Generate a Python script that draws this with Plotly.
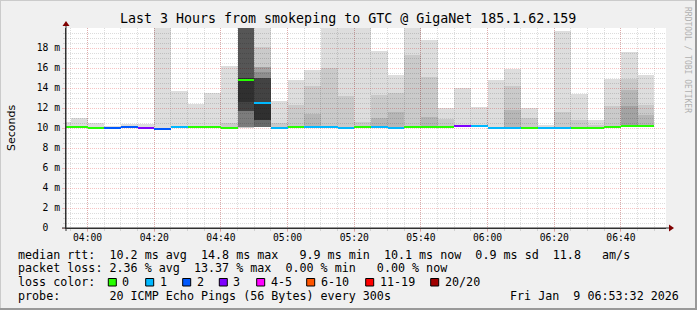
import plotly.graph_objects as go
import pandas as pd

# ---------------- data ----------------
DAY = "2026-01-09 "
intervals = ["03:50", "03:55", "04:00", "04:05", "04:10", "04:15", "04:20", "04:25", "04:30",
             "04:35", "04:40", "04:45", "04:50", "04:55", "05:00", "05:05", "05:10", "05:15",
             "05:20", "05:25", "05:30", "05:35", "05:40", "05:45", "05:50", "05:55", "06:00",
             "06:05", "06:10", "06:15", "06:20", "06:25", "06:30", "06:35", "06:40", "06:45"]

# median rtt per 5-minute step (ms)
median_ms = [10.13, 10.13, 10.0, 10.0, 10.13, 10.0, 9.9, 10.13, 10.13, 10.13, 10.0, 14.8,
             12.5, 10.0, 10.13, 10.13, 10.13, 10.02, 10.1, 10.1, 10.05, 10.1, 10.1, 10.1,
             10.2, 10.2, 10.05, 10.05, 10.05, 10.05, 10.05, 10.05, 10.05, 10.1, 10.2, 10.2]
# lost pings category per step (index into loss legend)
loss_cat = [0, 0, 0, 2, 2, 3, 2, 1, 0, 0, 0, 0, 1, 1, 0, 1, 1, 1,
            0, 1, 1, 0, 0, 0, 3, 1, 1, 1, 0, 1, 1, 0, 0, 0, 0, 0]

# smoke: bottom of the smoke and the tops of the outer (lightest) smoke levels (ms)
smoke_bottom = [10.0, 10.0, 9.9, 9.9, 10.0, 9.9, 9.8, 10.0, 10.0, 10.0, 9.9, None,
                None, 9.9, 10.0, 10.0, 10.0, 9.95, 10.0, 10.0, 10.0, 10.0, 10.0, 10.0,
                10.1, 10.1, 9.95, 9.95, 9.95, 9.95, 9.95, 9.95, 9.95, 10.0, 10.1, 10.1]
smoke_top1 = [10.6, 11.05, 10.55, 10.25, 10.4, 10.4, 20.6, 13.7, 12.4, 13.5, 16.2, None,
              None, 12.7, 14.8, 15.85, 20.6, 20.6, 20.6, 17.7, 15.3, 20.6, 18.8, 12.0,
              14.0, 12.1, 14.8, 15.9, 12.0, 10.3, 19.7, 13.4, 10.8, 14.9, 17.6, 15.3]
smoke_top2 = [None, None, None, None, None, None, None, None, None, None, 10.5, None,
              None, 10.5, 12.3, 14.2, 16.0, 13.2, 10.6, 13.3, 13.5, 17.3, 15.1, 10.9,
              None, None, None, 14.2, 10.97, None, 11.6, 10.8, 10.3, 12.2, 14.9, 12.3]
smoke_top3 = [None, None, None, None, None, None, None, None, None, None, None, None,
              None, None, None, 11.4, None, None, None, 11.0, 11.6, None, 11.1, None,
              None, None, None, 11.8, None, None, None, None, None, None, 13.8, 11.3]
smoke_top4 = [None, None, None, None, None, None, None, None, None, None, None, None,
              None, None, None, None, None, None, None, None, None, None, None, None,
              None, None, None, None, None, None, None, None, None, None, 12.2, None]
# dense smoke of the two congested steps: (step, level, low, high)
dense_smoke = [
    ("04:45", 1, 10.05, 22.0), ("04:45", 2, 10.05, 22.0), ("04:45", 3, 10.1, 22.0),
    ("04:45", 4, 10.1, 22.0), ("04:45", 5, 10.1, 22.0), ("04:45", 6, 10.1, 22.0),
    ("04:45", 7, 11.7, 22.0), ("04:45", 8, 11.7, 22.0), ("04:45", 9, 11.7, 15.0),
    ("04:45", 10, 12.65, 15.0),
    ("04:50", 1, 10.1, 22.0), ("04:50", 2, 10.1, 18.1), ("04:50", 3, 10.1, 16.1),
    ("04:50", 4, 10.1, 16.1), ("04:50", 5, 10.1, 15.6), ("04:50", 6, 10.1, 15.0),
    ("04:50", 7, 10.1, 15.0), ("04:50", 8, 10.8, 15.0), ("04:50", 9, 10.8, 15.0),
    ("04:50", 10, 10.8, 12.5),
]

loss_labels = ["0", "1", "2", "3", "4-5", "6-10", "11-19", "20/20"]
loss_colors = ["#26ff00", "#00b8ff", "#0059ff", "#7e00ff", "#ff00ff", "#ff5500", "#ff0000", "#a00000"]

x_ticks = ["04:00", "04:20", "04:40", "05:00", "05:20", "05:40", "06:00", "06:20", "06:40"]
y_ticks = [0, 2, 4, 6, 8, 10, 12, 14, 16, 18]
y_ticklabels = ["0\u00a0\u00a0", "2 m", "4 m", "6 m", "8 m", "10 m", "12 m", "14 m", "16 m", "18 m"]

legend_lines = [
    "median rtt:  10.2 ms avg  14.8 ms max   9.9 ms min  10.1 ms now  0.9 ms sd  11.8   am/s",
    "packet loss: 2.36 % avg  13.37 % max  0.00 % min   0.00 % now",
    "loss color:",
    "probe:       20 ICMP Echo Pings (56 Bytes) every 300s",
]
stamp = "Fri Jan  9 06:53:32 2026"
title = "Last 3 Hours from smokeping to GTC @ GigaNet 185.1.62.159"

# ---------------- geometry ----------------
W, H = 697, 310
L, T, PW, PH = 66, 28, 600, 200
STEP_MS = 300000
MONO = "DejaVu Sans Mono"
MGRID = "rgba(225,60,60,0.30)"
GRID = "rgba(140,140,140,0.30)"


def ts(hhmm):
    return pd.Timestamp(DAY + hhmm)


def center(hhmm):
    return ts(hhmm) + pd.Timedelta(seconds=150)


def px(xp):
    return (xp - L) / PW


def py(yp):
    return (T + PH - yp) / PH


# smokeping grey levels; each inner level is an alpha layer over the outer ones
def level_gray(level):
    return int(190 / 10 * (10 - level)) + 50


fig = go.Figure()

tops = {1: smoke_top1, 2: smoke_top2, 3: smoke_top3, 4: smoke_top4}
for level in range(1, 11):
    prev = 255 if level == 1 else level_gray(level - 1)
    alpha = 1 - level_gray(level) / prev
    xs, bases, hs = [], [], []
    if level in tops:
        for t, lo, hi in zip(intervals, smoke_bottom, tops[level]):
            if lo is not None and hi is not None:
                xs.append(center(t)); bases.append(lo); hs.append(hi - lo)
    for t, lv, lo, hi in dense_smoke:
        if lv == level:
            xs.append(center(t)); bases.append(lo); hs.append(hi - lo)
    if xs:
        fig.add_trace(go.Bar(x=xs, y=hs, base=bases, width=STEP_MS,
                             marker=dict(color=f"rgba(0,0,0,{alpha:.3f})", line=dict(width=0)),
                             hoverinfo="skip", showlegend=False))

# median line coloured by loss
fig.add_trace(go.Bar(
    x=[center(t) for t in intervals], y=[0.2] * len(intervals),
    base=[m - 0.1 for m in median_ms], width=STEP_MS,
    marker=dict(color=[loss_colors[c] for c in loss_cat], line=dict(width=0)),
    showlegend=False, hoverinfo="skip"))

minor_y = [v / 2 for v in range(1, 40) if v % 4 != 0]

fig.update_layout(
    width=W, height=H, margin=dict(l=L, r=W - L - PW, t=T, b=H - T - PH),
    paper_bgcolor="#f0f0f0", plot_bgcolor="#ffffff", barmode="overlay", bargap=0,
    font=dict(family=MONO, size=9.7, color="#000000"),
    xaxis=dict(
        type="date", range=[ts("03:53:32"), ts("06:53:32")],
        tickmode="array", tickvals=[ts(t) for t in x_ticks], ticktext=x_ticks,
        showgrid=True, gridcolor=MGRID, griddash="1px,1px", gridwidth=1,
        ticks="outside", ticklen=3, tickcolor=MGRID, ticklabelstandoff=-3,
        showline=True, linecolor="#303030", linewidth=1, zeroline=False,
        minor=dict(dtick=STEP_MS, tick0=ts("03:55"), showgrid=True,
                   gridcolor=GRID, griddash="1px,1px",
                   ticks="outside", ticklen=2, tickcolor=GRID),
        tickfont=dict(family=MONO, size=9.7), fixedrange=True,
    ),
    yaxis=dict(
        range=[0, 20], tickmode="array", tickvals=y_ticks, ticktext=y_ticklabels,
        showgrid=True, gridcolor=MGRID, griddash="1px,1px", gridwidth=1,
        ticks="outside", ticklen=3, tickcolor=MGRID,
        showline=True, linecolor="#303030", linewidth=1, zeroline=False,
        minor=dict(tickmode="array", tickvals=minor_y, showgrid=True,
                   gridcolor=GRID, griddash="1px,1px",
                   ticks="outside", ticklen=2, tickcolor=GRID),
        tickfont=dict(family=MONO, size=9.7), fixedrange=True,
    ),
)

shapes = []
# outer 3D frame
shapes.append(dict(type="line", xref="paper", yref="paper", x0=px(0), x1=px(W), y0=py(0.5), y1=py(0.5),
                   line=dict(color="#cbcbcb", width=1)))
shapes.append(dict(type="line", xref="paper", yref="paper", x0=px(0.5), x1=px(0.5), y0=py(0), y1=py(H),
                   line=dict(color="#cbcbcb", width=1)))
shapes.append(dict(type="line", xref="paper", yref="paper", x0=px(0), x1=px(W), y0=py(H - 1), y1=py(H - 1),
                   line=dict(color="#999999", width=2)))
shapes.append(dict(type="line", xref="paper", yref="paper", x0=px(W - 1), x1=px(W - 1), y0=py(0), y1=py(H),
                   line=dict(color="#999999", width=2)))
# axis extensions and arrows
shapes.append(dict(type="line", xref="paper", yref="paper", x0=px(62), x1=px(670), y0=0, y1=0,
                   line=dict(color="#303030", width=1)))
shapes.append(dict(type="line", xref="paper", yref="paper", x0=0, x1=0, y0=py(231), y1=py(25),
                   line=dict(color="#303030", width=1)))
shapes.append(dict(type="path", xref="paper", yref="paper",
                   path=f"M {px(669)} {py(224.5)} L {px(674)} {py(228)} L {px(669)} {py(231.5)} Z",
                   fillcolor="#7f0000", line=dict(width=0)))
shapes.append(dict(type="path", xref="paper", yref="paper",
                   path=f"M {px(62.5)} {py(26)} L {px(66)} {py(21)} L {px(69.5)} {py(26)} Z",
                   fillcolor="#7f0000", line=dict(width=0)))
# loss colour boxes
box_left = [108.3, 145.7, 182.7, 219.3, 256.7, 306.7, 365.7, 430.7]
for bx, col in zip(box_left, loss_colors):
    shapes.append(dict(type="rect", xref="paper", yref="paper", x0=px(bx), x1=px(bx + 8),
                       y0=py(286), y1=py(278.5), fillcolor=col, line=dict(color="#000000", width=1)))
fig.update_layout(shapes=shapes)

ann = []
ann.append(dict(text=title, x=px(348), y=py(18.5), xref="paper", yref="paper", showarrow=False,
                xanchor="center", yanchor="middle", font=dict(family=MONO, size=13.3, color="#000")))
ann.append(dict(text="Seconds", x=px(11), y=py(128), xref="paper", yref="paper", showarrow=False,
                textangle=-90, xanchor="center", yanchor="middle",
                font=dict(family="DejaVu Sans", size=11, color="#000")))
ann.append(dict(text="RRDTOOL / TOBI OETIKER", x=px(688), y=py(5), xref="paper", yref="paper",
                showarrow=False, textangle=90, xanchor="center", yanchor="top",
                font=dict(family=MONO, size=8, color="#b0b0b0")))
line_y = [254.5, 268, 282, 296]
for txt, yy in zip(legend_lines, line_y):
    ann.append(dict(text=txt.replace(" ", "\u00a0"), x=px(16), y=py(yy), xref="paper", yref="paper",
                    showarrow=False, xanchor="left", yanchor="middle",
                    font=dict(family=MONO, size=11.7, color="#000")))
for bx, lab in zip(box_left, loss_labels):
    ann.append(dict(text=lab, x=px(bx + 12), y=py(282), xref="paper", yref="paper",
                    showarrow=False, xanchor="left", yanchor="middle",
                    font=dict(family=MONO, size=11.7, color="#000")))
ann.append(dict(text=stamp.replace(" ", "\u00a0"), x=px(681), y=py(296), xref="paper", yref="paper",
                showarrow=False, xanchor="right", yanchor="middle",
                font=dict(family=MONO, size=11.7, color="#000")))
fig.update_layout(annotations=ann)

fig.write_html("out.html")
